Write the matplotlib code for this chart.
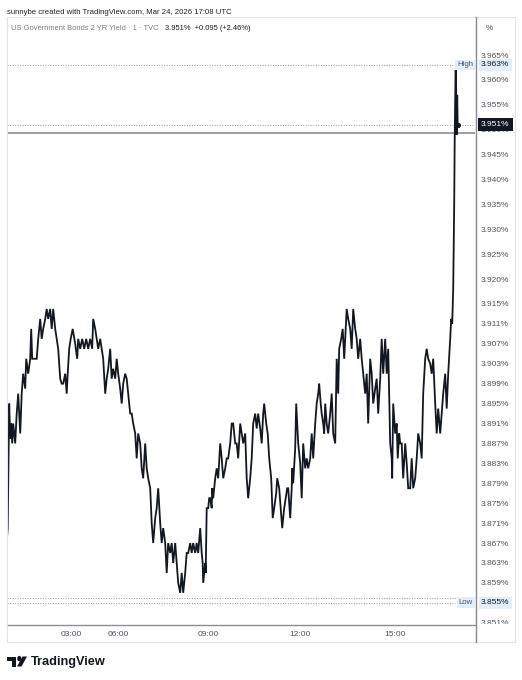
import matplotlib.pyplot as plt
from matplotlib.patches import Rectangle, Circle, Polygon
from matplotlib.lines import Line2D
from matplotlib.transforms import blended_transform_factory

plt.rcParams['font.family'] = ['Liberation Sans', 'DejaVu Sans']

# 1-minute bar index and close yield (%)
bars = [0, 2, 5, 7, 9, 11, 13, 17, 20, 23, 27, 30, 33, 37, 39, 43, 47, 49, 51, 57,
        60, 63, 67, 70, 73, 77, 80, 83, 87, 90, 93, 97, 100, 103, 107, 110, 113, 117, 120, 122,
        125, 128, 132, 137, 141, 143, 147, 151, 155, 159, 163, 167, 171, 173, 177, 180, 183,
        187, 190, 193, 197, 200, 203, 207, 210, 213, 217, 220, 223, 227, 230, 233, 237, 240,
        243, 247, 250, 253, 257, 260, 263, 267, 270, 273, 277, 280, 283, 287, 290, 293, 297,
        300, 303, 307, 310, 313, 317, 320, 323, 327, 330, 333, 337, 340, 343, 347, 350, 353,
        357, 360, 363,
        367, 370, 373, 377, 380, 383, 387, 390, 392, 393, 397, 398, 400, 403, 405, 407, 410,
        411, 413, 417, 420, 423, 427, 430, 433, 437, 440, 443, 447, 450, 453, 457, 460, 463,
        467, 470, 473, 477, 480, 483, 487, 490, 493, 497, 500, 503, 507, 510, 513, 515, 519,
        522, 525, 529, 532, 535, 539, 541, 545, 548, 551, 555,
        558, 561, 563, 567, 570, 571, 573, 577, 579, 581, 583, 587, 590, 593, 597, 600, 603,
        607, 610, 613, 617, 620, 623, 625, 628, 630, 633, 635, 637, 640, 643, 647, 650, 653,
        657, 660, 663, 665, 669, 672, 675, 678, 680, 683, 687, 690, 693, 697, 700, 703, 707,
        710, 713, 717, 720, 723, 727, 730, 733, 737, 740, 743, 747, 750, 753,
        757, 760, 763, 767, 770, 771, 773, 777, 780, 782, 785, 787, 790, 793, 797, 800, 803,
        807, 810, 813, 817, 820, 823, 827, 830, 833, 837, 840, 843, 847, 850, 853, 857, 860,
        863, 867, 870, 873, 877, 880, 883, 887, 889, 891, 893, 895, 896, 897, 898, 899, 900,
        901, 902]
yields = [3.867, 3.870, 3.895, 3.888, 3.891, 3.887, 3.891, 3.887, 3.893, 3.897, 3.889, 3.897,
          3.901, 3.898, 3.904, 3.901, 3.904, 3.910, 3.904, 3.904, 3.904, 3.908, 3.912, 3.908,
          3.910, 3.912, 3.914, 3.912, 3.914, 3.910, 3.914, 3.910, 3.908, 3.906, 3.900, 3.899,
          3.899, 3.901, 3.897, 3.901, 3.906, 3.908, 3.910, 3.907, 3.904, 3.908, 3.906, 3.908,
          3.906, 3.908, 3.906, 3.908, 3.906, 3.912, 3.910, 3.908, 3.906,
          3.908, 3.906, 3.904, 3.897, 3.900, 3.902, 3.906, 3.900, 3.902, 3.900, 3.904, 3.901,
          3.898, 3.895, 3.899, 3.901, 3.900, 3.897, 3.893, 3.893, 3.891, 3.889, 3.884, 3.889,
          3.887, 3.882, 3.880, 3.887, 3.882, 3.880, 3.878, 3.871, 3.867, 3.872, 3.874, 3.878,
          3.871, 3.867, 3.870, 3.867, 3.861, 3.867, 3.865, 3.867, 3.863, 3.867, 3.863, 3.859,
          3.857, 3.861, 3.857, 3.861, 3.865, 3.865,
          3.867, 3.865, 3.867, 3.865, 3.867, 3.865, 3.870, 3.865, 3.863, 3.859, 3.863, 3.861,
          3.874, 3.874, 3.876, 3.876, 3.874, 3.878, 3.876, 3.880, 3.882, 3.880, 3.887, 3.884,
          3.880, 3.882, 3.884, 3.884, 3.887, 3.891, 3.891, 3.887, 3.887, 3.884, 3.891, 3.889,
          3.887, 3.889, 3.880, 3.876, 3.880, 3.884, 3.891, 3.893, 3.890, 3.893, 3.890, 3.887,
          3.893, 3.895, 3.891, 3.889, 3.884, 3.880, 3.872, 3.874, 3.877, 3.880, 3.878, 3.874,
          3.870, 3.874,
          3.876, 3.878, 3.878, 3.872, 3.878, 3.882, 3.879, 3.886, 3.895, 3.891, 3.887, 3.883,
          3.876, 3.887, 3.882, 3.884, 3.882, 3.884, 3.889, 3.884, 3.891, 3.895, 3.897, 3.899,
          3.895, 3.893, 3.891, 3.889, 3.895, 3.891, 3.889, 3.893, 3.897, 3.889, 3.887, 3.904,
          3.897, 3.906, 3.908, 3.910, 3.904, 3.910, 3.914, 3.912, 3.910, 3.906, 3.914, 3.910,
          3.908, 3.904, 3.908, 3.904, 3.901, 3.897, 3.901, 3.891, 3.904, 3.901, 3.895, 3.898,
          3.900, 3.893, 3.900, 3.908, 3.901,
          3.908, 3.901, 3.906, 3.887, 3.884, 3.880, 3.895, 3.889, 3.891, 3.884, 3.889, 3.887,
          3.887, 3.880, 3.887, 3.883, 3.878, 3.878, 3.884, 3.878, 3.880, 3.884, 3.889, 3.887,
          3.884, 3.897, 3.904, 3.906, 3.904, 3.903, 3.901, 3.904, 3.895, 3.889, 3.894, 3.889,
          3.893, 3.897, 3.901, 3.894, 3.901, 3.908, 3.912, 3.911, 3.918, 3.935, 3.948, 3.956,
          3.962, 3.953, 3.949, 3.957, 3.951]

tick_bars = [129, 223, 403, 587, 777]
tick_times = ['03:00', '06:00', '09:00', '12:00', '15:00']

price_ticks = [3.965, 3.960, 3.955, 3.950, 3.945, 3.940, 3.935, 3.930, 3.925, 3.920, 3.915,
               3.911, 3.907, 3.903, 3.899, 3.895, 3.891, 3.887, 3.883, 3.879, 3.875, 3.871,
               3.867, 3.863, 3.859, 3.851]
high = 3.963
low = 3.855
last = 3.951
prev_close = 3.856
drawn_level = 3.9493
change = 0.095
change_pct = 2.46

W, H = 522, 680
fig = plt.figure(figsize=(W / 100, H / 100), dpi=100)


def fx(px):
    return px / W


def fy(py):
    return 1 - py / H


ax = fig.add_axes([fx(7), fy(625), fx(475) - fx(7), fy(18) - fy(625)])
ax.plot(bars, yields, color='#131722', lw=1.3, solid_joinstyle='miter', zorder=3)
ax.plot(bars[-1], yields[-1], 'o', ms=2.6, color='#131722', zorder=4)
ax.set_xlim(0.6, 936.6)
ax.set_ylim(3.85054, 3.97243)

dot = (0, (1, 1.6))
ax.axhline(high, xmax=(455 - 7) / 468, color='#9598a1', lw=0.7, ls=dot)
ax.axhline(last, color='#9598a1', lw=0.7, ls=dot)
ax.axhline(prev_close, color='#9598a1', lw=0.7, ls=dot)
ax.axhline(low, xmax=(455 - 7) / 468, color='#9598a1', lw=0.7, ls=dot)
ax.axhline(drawn_level, color='#8a8d96', lw=1.2)

ax.yaxis.tick_right()
ax.set_yticks(price_ticks, [f'{v:.3f}%' for v in price_ticks])
ax.tick_params(axis='y', length=0, pad=4.3, labelsize=6, labelcolor='#50535e')
ax.set_xticks(tick_bars, tick_times)
ax.tick_params(axis='x', length=0, pad=4, labelsize=6, labelcolor='#50535e')

for s in ['top', 'left', 'right']:
    ax.spines[s].set_visible(False)
ax.spines['bottom'].set_color('#8a8d96')
ax.spines['bottom'].set_linewidth(1.0)

tr = blended_transform_factory(ax.transAxes, ax.transData)
blue = '#e3eefc'
ax.text(0.9955, high, 'High', transform=tr, ha='right', va='center', fontsize=5.6,
        color='#50535e', bbox=dict(facecolor=blue, edgecolor='none', pad=1.4), zorder=5)
ax.text(0.9955, low, 'Low', transform=tr, ha='right', va='center', fontsize=5.6,
        color='#50535e', bbox=dict(facecolor=blue, edgecolor='none', pad=1.4), zorder=5)
x_lab = 1 + 6 / 468
ax.text(x_lab, high, f'{high:.3f}%', transform=tr, ha='left', va='center', fontsize=6,
        color='#131722', bbox=dict(facecolor=blue, edgecolor='none', pad=1.6), clip_on=False)
ax.text(x_lab, low, f'{low:.3f}%', transform=tr, ha='left', va='center', fontsize=6,
        color='#131722', bbox=dict(facecolor=blue, edgecolor='none', pad=1.6), clip_on=False)
ax.text(x_lab, last, f'{last:.3f}%', transform=tr, ha='left', va='center', fontsize=6,
        color='white', bbox=dict(facecolor='#131722', edgecolor='none', pad=2.2),
        clip_on=False, zorder=10)

# frame and dividers
fig.patches.append(Rectangle((fx(476), fy(641)), fx(514) - fx(476), fy(624) - fy(641),
                             transform=fig.transFigure, facecolor='white', edgecolor='none'))
fig.patches.append(Rectangle((fx(7), fy(642)), fx(515) - fx(7), fy(17) - fy(642),
                             transform=fig.transFigure, fill=False, edgecolor='#e0e3eb', lw=0.8))
fig.lines.append(Line2D([fx(475.5), fx(475.5)], [fy(17), fy(642)], transform=fig.transFigure,
                        color='#868993', lw=1.0))

fig.text(fx(7), fy(12), 'sunnybe created with TradingView.com, Mar 24, 2026 17:08 UTC',
         fontsize=5.6, va='center', color='#222222')
fig.text(fx(11), fy(28.5), 'US Government Bonds 2 YR Yield \u00b7 1 \u00b7 TVC', fontsize=5.4,
         va='center', color='#787b86')
fig.text(fx(165), fy(28.5), f'{last:.3f}%  +{change:.3f} (+{change_pct:.2f}%)', fontsize=5.4,
         va='center', color='#131722')
fig.text(fx(486), fy(28.5), '%', fontsize=5.7, va='center', color='#50535e')

# TradingView logo
logo = '#131722'
fig.patches.append(Rectangle((fx(7), fy(660.5)), fx(16) - fx(7), fy(656.5) - fy(660.5),
                             transform=fig.transFigure, facecolor=logo, edgecolor='none'))
fig.patches.append(Rectangle((fx(12), fy(666.5)), fx(16) - fx(12), fy(656.5) - fy(666.5),
                             transform=fig.transFigure, facecolor=logo, edgecolor='none'))
fig.patches.append(Circle((fx(19.3), fy(658.6)), 2.1 / W, transform=fig.transFigure,
                          facecolor=logo, edgecolor='none'))
fig.patches.append(Polygon([(fx(22.5), fy(656.5)), (fx(27), fy(656.5)), (fx(21.5), fy(666.5)),
                            (fx(17), fy(666.5))], closed=True, transform=fig.transFigure,
                           facecolor=logo, edgecolor='none'))
fig.text(fx(31), fy(661.5), 'TradingView', fontsize=9.2, weight='bold', va='center', color=logo)

fig.savefig('out.png', dpi=100, facecolor='white')
